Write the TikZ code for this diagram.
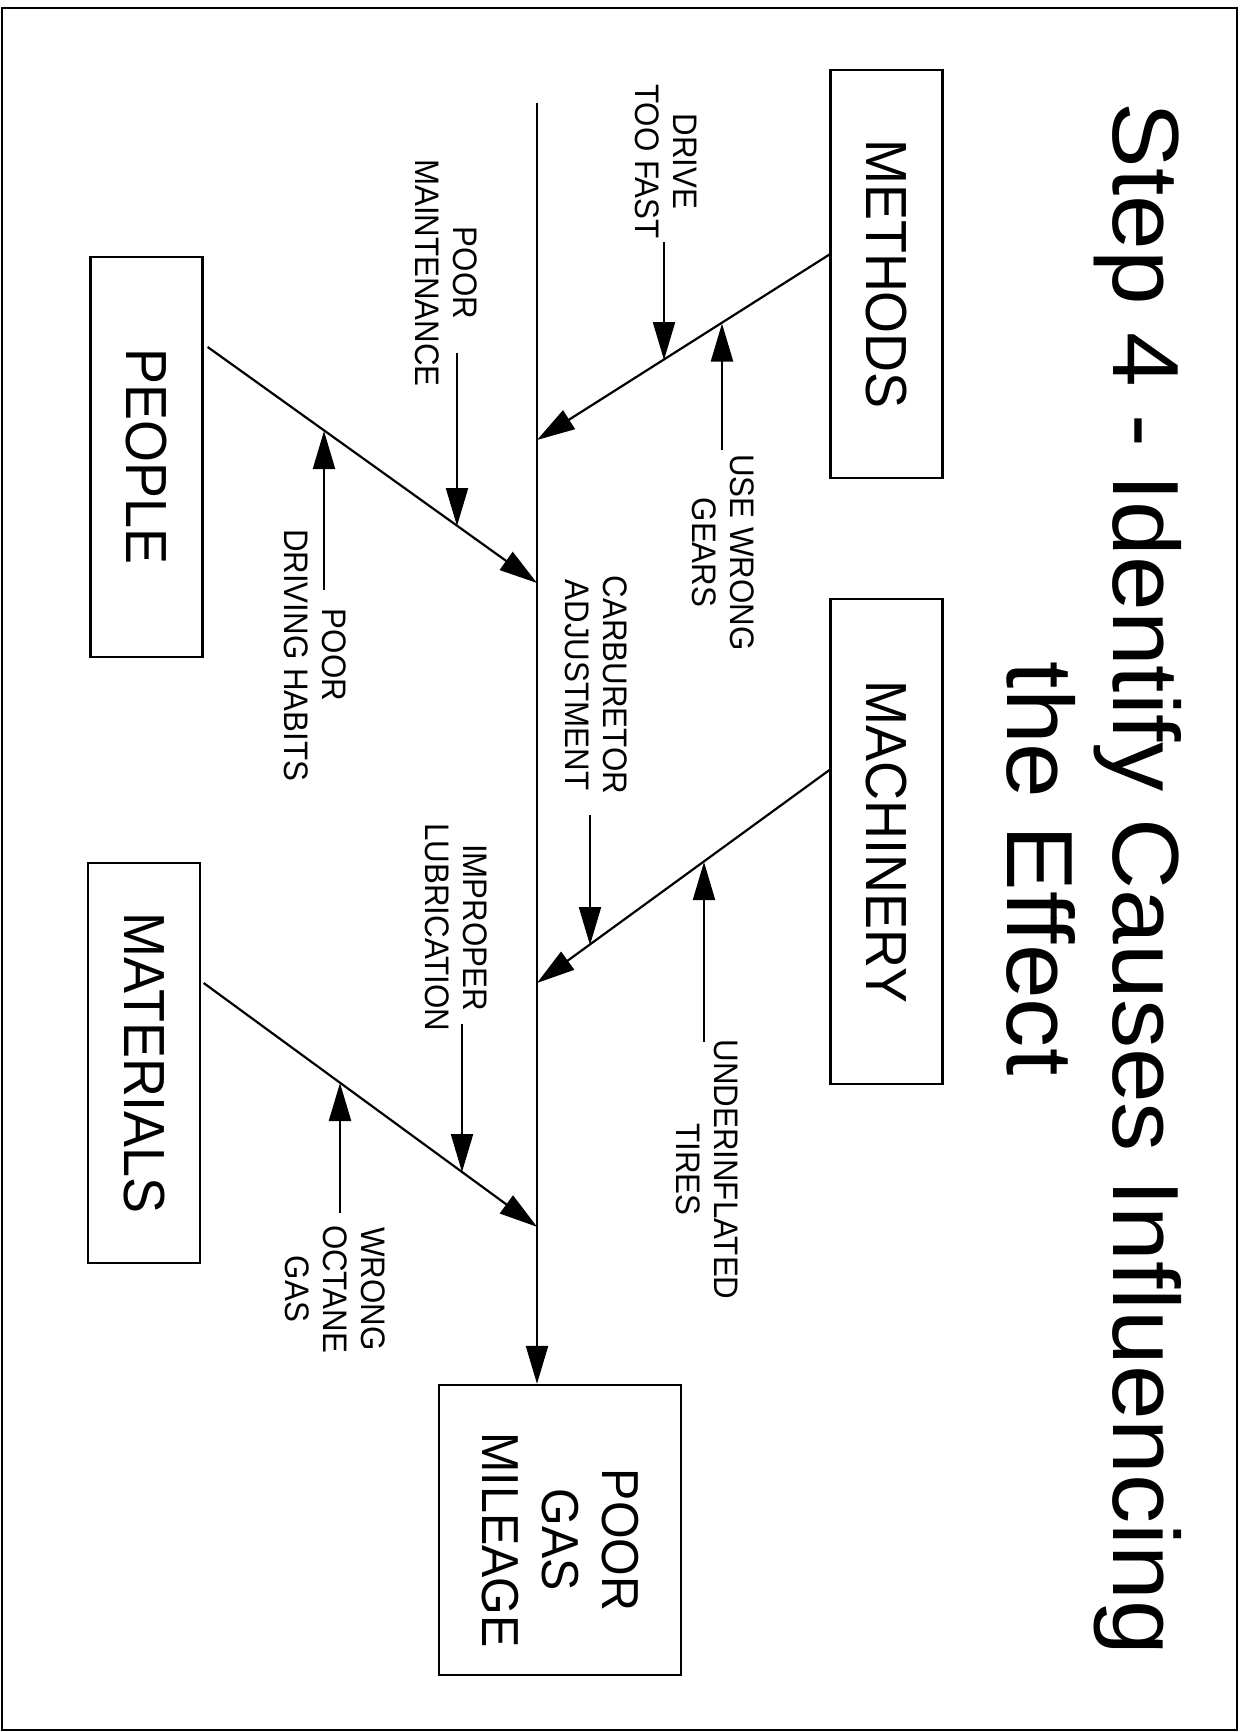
\documentclass[tikz,border=0pt]{standalone}
\usepackage{fontspec}
\setmainfont{Liberation Sans}
\newfontfamily\titlefont[FakeStretch=1.046]{Liberation Sans}
\newfontfamily\boxfont[FakeStretch=0.93]{Liberation Sans}
\newfontfamily\lblfont[FakeStretch=0.92]{Liberation Sans}
\usetikzlibrary{arrows.meta,calc}
\begin{document}
\begin{tikzpicture}[x=1pt,y=-1pt,
  arr/.style={line width=2.2pt,-{Triangle[length=38pt,width=22pt]}},
  catbox/.style={draw,line width=2.3pt,rotate=-90,inner sep=0pt,minimum height=112pt,
    font=\boxfont\fontsize{58}{64}\selectfont},
  cause/.style={rotate=-90,inner sep=0pt,align=center,
    font=\lblfont\fontsize{34}{38}\selectfont},
  titletext/.style={rotate=-90,anchor=base,inner sep=0pt,
    font=\titlefont\fontsize{94}{110}\selectfont},
]
\useasboundingbox (0,0) rectangle (1241,1732);
\draw[line width=2pt] (2,8) rectangle (1237,1730);

% title
\node[titletext] (title1) at (1113,879) {Step 4 - Identify Causes Influencing};
\node[titletext] (title2) at (1007,868.5) {the Effect};

% category boxes
\node[catbox,minimum width=408pt] (methods) at (886.6,274) {METHODS};
\node[catbox,minimum width=400pt] (people) at (146.5,456.7) {PEOPLE};
\node[catbox,minimum width=485pt] (machinery) at (886.6,841.7) {MACHINERY};
\node[catbox,minimum width=400pt] (materials) at (144,1063) {MATERIALS};
\node[catbox,minimum width=290pt,minimum height=242pt,align=center,
  font=\boxfont\fontsize{52}{60}\selectfont] (effect) at (560,1530)
  {\hspace*{20pt}POOR\\\hspace*{20pt}GAS\\\hspace*{20pt}MILEAGE};

% spine
\coordinate (spinetop) at (537,103);
\draw[arr] (spinetop) -- ([xshift=-23pt]effect.west);

% junctions on spine
\coordinate (jm) at (537,440);
\coordinate (jp) at (537,583);
\coordinate (jc) at (537,983);
\coordinate (jt) at (537,1226.8);

% branches
\draw[arr] ([yshift=19.5pt]methods.south) -- (jm);
\draw[arr] ([xshift=4pt,yshift=109.7pt]people.north) -- (jp);
\draw[arr] ([yshift=71.7pt]machinery.south) -- (jc);
\draw[arr] ([xshift=2.5pt,yshift=80pt]materials.north) -- (jt);

% cause labels
\node[cause] (dtf) at (666,161.5) {DRIVE\\TOO FAST};
\node[cause] (uwg) at (723.5,552.5) {USE WRONG\\GEARS};
\node[cause] (pm) at (446,273) {POOR\\MAINTENANCE};
\node[cause] (pdh) at (315,655) {POOR\\DRIVING HABITS};
\node[cause] (ca) at (596,685) {CARBURETOR\\ADJUSTMENT};
\node[cause] (il) at (456,927.5) {IMPROPER\\LUBRICATION};
\node[cause] (ut) at (707.5,1169.5) {UNDERINFLATED\\TIRES};
\node[cause] (wog) at (335,1289) {WRONG\\OCTANE\\GAS};

% cause arrow ends
\coordinate (s1) at (664,242);   \coordinate (e1) at (664,360);
\coordinate (s2) at (722,450);   \coordinate (e2) at (722,323.5);
\coordinate (s3) at (457,353);   \coordinate (e3) at (457,526);
\coordinate (s4) at (324,590);   \coordinate (e4) at (324,431);
\coordinate (s5) at (590,815);   \coordinate (e5) at (590,945);
\coordinate (s6) at (704,1042);  \coordinate (e6) at (704,862);
\coordinate (s7) at (462,1024);  \coordinate (e7) at (462,1172);
\coordinate (s8) at (340,1213);  \coordinate (e8) at (340,1083);

\foreach \i in {1,...,8} { \draw[arr] (s\i) -- (e\i); }
\end{tikzpicture}
\end{document}
